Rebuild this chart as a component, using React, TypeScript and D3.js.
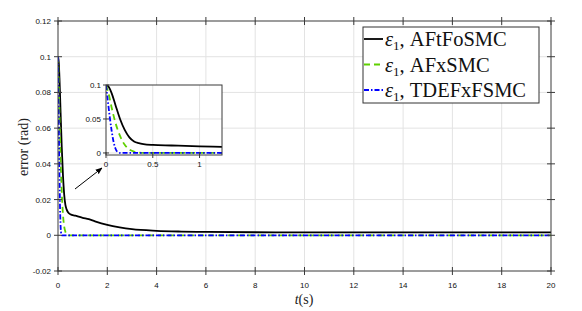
import React, { useEffect, useRef } from 'react';
import * as d3 from 'd3';

type Pt = [number, number];

// time (s), error (rad)
const afTFoSMC: Pt[] = [
  [0, 0.1], [0.03, 0.097], [0.06, 0.088], [0.1, 0.071], [0.15, 0.05], [0.2, 0.034],
  [0.25, 0.023], [0.3, 0.017], [0.35, 0.0145], [0.4, 0.013], [0.5, 0.0118], [0.7, 0.011],
  [1.0, 0.0098], [1.25, 0.009], [1.5, 0.0078], [2, 0.0058], [2.5, 0.0044], [3, 0.0034],
  [4, 0.0025], [5, 0.0021], [6, 0.0019], [8, 0.0017], [10, 0.0016], [15, 0.0016], [20, 0.0016],
];
const afxSMC: Pt[] = [
  [0, 0.1], [0.03, 0.086], [0.06, 0.067], [0.1, 0.045], [0.15, 0.025], [0.2, 0.012],
  [0.25, 0.005], [0.3, 0.002], [0.35, 0.0005], [0.4, 0], [1, 0], [20, 0],
];
const tdefxFSMC: Pt[] = [
  [0, 0.1], [0.02, 0.076], [0.04, 0.053], [0.06, 0.033], [0.08, 0.017], [0.1, 0.007],
  [0.12, 0.002], [0.15, 0], [1, 0], [20, 0],
];

const xTicks = [0, 2, 4, 6, 8, 10, 12, 14, 16, 18, 20];
const yTicks = [-0.02, 0, 0.02, 0.04, 0.06, 0.08, 0.1, 0.12];
const yTickLabels = ['-0.02', '0', '0.02', '0.04', '0.06', '0.08', '0.1', '0.12'];
const insetXTicks = [0, 0.5, 1];
const insetYTicks = [0, 0.05, 0.1];
const legendNames = ['AFtFoSMC', 'AFxSMC', 'TDEFxFSMC'];

const series = [
  { data: afTFoSMC, color: '#000000', dash: '' },
  { data: afxSMC, color: '#5fd000', dash: '6,4' },
  { data: tdefxFSMC, color: '#0000ff', dash: '5,2,1.5,2' },
];

const App: React.FC = () => {
  const ref = useRef<SVGSVGElement | null>(null);

  useEffect(() => {
    if (!ref.current) return;
    const svg = d3.select(ref.current);
    svg.selectAll('*').remove();

    const tickFont = 'Liberation Sans, Arial, sans-serif';
    const serif = 'Liberation Serif, DejaVu Serif, serif';

    // main plot
    const x = d3.scaleLinear().domain([0, 20]).range([58, 551]);
    const y = d3.scaleLinear().domain([-0.02, 0.12]).range([271, 21]);

    const defs = svg.append('defs');
    defs.append('clipPath').attr('id', 'mainClip')
      .append('rect').attr('x', 58).attr('y', 21).attr('width', 493).attr('height', 250);

    const grid = svg.append('g').attr('stroke', '#e3e3e3').attr('stroke-width', 1);
    xTicks.slice(1, -1).forEach((t) => {
      grid.append('line').attr('x1', x(t)).attr('x2', x(t)).attr('y1', 21).attr('y2', 271);
    });
    yTicks.slice(1, -1).forEach((t) => {
      grid.append('line').attr('x1', 58).attr('x2', 551).attr('y1', y(t)).attr('y2', y(t));
    });

    const line = d3.line<Pt>().x((d) => x(d[0])).y((d) => y(d[1])).curve(d3.curveMonotoneX);
    const lines = svg.append('g').attr('clip-path', 'url(#mainClip)');
    series.forEach((s) => {
      lines.append('path').datum(s.data).attr('d', line).attr('fill', 'none')
        .attr('stroke', s.color).attr('stroke-width', 1.8)
        .attr('stroke-dasharray', s.dash || null);
    });

    // frame and ticks crossing the axes
    const frame = svg.append('g').attr('stroke', '#3a3a3a').attr('stroke-width', 1);
    frame.append('rect').attr('x', 58).attr('y', 21).attr('width', 493).attr('height', 250).attr('fill', 'none');
    xTicks.forEach((t) => {
      frame.append('line').attr('x1', x(t)).attr('x2', x(t)).attr('y1', 267).attr('y2', 275);
      frame.append('line').attr('x1', x(t)).attr('x2', x(t)).attr('y1', 17).attr('y2', 25);
    });
    yTicks.forEach((t) => {
      frame.append('line').attr('x1', 54).attr('x2', 62).attr('y1', y(t)).attr('y2', y(t));
      frame.append('line').attr('x1', 547).attr('x2', 555).attr('y1', y(t)).attr('y2', y(t));
    });

    svg.append('g').selectAll('text').data(xTicks).enter().append('text')
      .attr('x', (d) => x(d)).attr('y', 288).attr('text-anchor', 'middle')
      .attr('font-family', tickFont).attr('font-size', 8).attr('fill', '#111')
      .text((d) => String(d));
    svg.append('g').selectAll('text').data(yTicks).enter().append('text')
      .attr('x', 51).attr('y', (d) => y(d) + 3).attr('text-anchor', 'end')
      .attr('font-family', tickFont).attr('font-size', 8).attr('fill', '#111')
      .text((_, i) => yTickLabels[i]);

    // axis titles
    const xl = svg.append('text').attr('x', 304).attr('y', 304).attr('text-anchor', 'middle')
      .attr('font-family', serif).attr('font-size', 14).attr('fill', '#222');
    xl.append('tspan').attr('font-style', 'italic').text('t');
    xl.append('tspan').text('(s)');
    svg.append('text').attr('transform', 'translate(28,147) rotate(-90)').attr('text-anchor', 'middle')
      .attr('font-family', serif).attr('font-size', 14).attr('fill', '#222').text('error (rad)');

    // inset
    const ix = d3.scaleLinear().domain([0, 1.24]).range([106, 222]);
    const iy = d3.scaleLinear().domain([-0.003, 0.1]).range([155, 85]);
    defs.append('clipPath').attr('id', 'insetClip')
      .append('rect').attr('x', 106).attr('y', 85).attr('width', 116).attr('height', 70);
    const inset = svg.append('g');
    inset.append('rect').attr('x', 106).attr('y', 85).attr('width', 116).attr('height', 70).attr('fill', '#fff');
    const ig = inset.append('g').attr('stroke', '#e3e3e3');
    insetXTicks.slice(1).forEach((t) => {
      ig.append('line').attr('x1', ix(t)).attr('x2', ix(t)).attr('y1', 85).attr('y2', 155);
    });
    insetYTicks.slice(0, 2).forEach((t) => {
      ig.append('line').attr('x1', 106).attr('x2', 222).attr('y1', iy(t)).attr('y2', iy(t));
    });
    const iline = d3.line<Pt>().x((d) => ix(d[0])).y((d) => iy(d[1])).curve(d3.curveMonotoneX);
    const il = inset.append('g').attr('clip-path', 'url(#insetClip)');
    series.forEach((s) => {
      il.append('path').datum(s.data).attr('d', iline).attr('fill', 'none')
        .attr('stroke', s.color).attr('stroke-width', 1.8)
        .attr('stroke-dasharray', s.dash || null);
    });
    const iframe = inset.append('g').attr('stroke', '#3a3a3a');
    iframe.append('rect').attr('x', 106).attr('y', 85).attr('width', 116).attr('height', 70).attr('fill', 'none');
    insetXTicks.forEach((t) => {
      iframe.append('line').attr('x1', ix(t)).attr('x2', ix(t)).attr('y1', 152).attr('y2', 158);
    });
    insetYTicks.forEach((t) => {
      iframe.append('line').attr('x1', 103).attr('x2', 109).attr('y1', iy(t)).attr('y2', iy(t));
    });
    inset.selectAll('text.ix').data(insetXTicks).enter().append('text')
      .attr('x', (d) => ix(d)).attr('y', 167).attr('text-anchor', 'middle')
      .attr('font-family', tickFont).attr('font-size', 8).attr('fill', '#111').text((d) => String(d));
    inset.selectAll('text.iy').data(insetYTicks).enter().append('text')
      .attr('x', 101).attr('y', (d) => iy(d) + 3).attr('text-anchor', 'end')
      .attr('font-family', tickFont).attr('font-size', 8).attr('fill', '#111').text((d) => String(d));

    // arrow
    defs.append('marker').attr('id', 'arrowHead').attr('viewBox', '0 0 10 10')
      .attr('refX', 9).attr('refY', 5).attr('markerWidth', 7).attr('markerHeight', 7)
      .attr('orient', 'auto').attr('markerUnits', 'userSpaceOnUse')
      .append('path').attr('d', 'M0,1 L10,5 L0,9 Z').attr('fill', '#000');
    svg.append('line').attr('x1', 75).attr('y1', 189).attr('x2', 102).attr('y2', 168)
      .attr('stroke', '#000').attr('stroke-width', 1).attr('marker-end', 'url(#arrowHead)');

    // legend
    const lg = svg.append('g');
    lg.append('rect').attr('x', 363).attr('y', 27).attr('width', 176).attr('height', 76)
      .attr('fill', '#fff').attr('stroke', '#333').attr('stroke-width', 1);
    series.forEach((s, i) => {
      const cy = 39 + i * 25.5;
      lg.append('line').attr('x1', 364).attr('x2', 383).attr('y1', cy).attr('y2', cy)
        .attr('stroke', s.color).attr('stroke-width', 1.8).attr('stroke-dasharray', s.dash || null);
      const t = lg.append('text').attr('x', 385).attr('y', cy + 7)
        .attr('font-family', serif).attr('font-size', 20.5).attr('fill', '#111');
      t.append('tspan').attr('font-style', 'italic').text('ε');
      t.append('tspan').attr('font-size', 13).attr('dy', 4).text('1');
      t.append('tspan').attr('dy', -4).text(', ' + legendNames[i]);
    });
  }, []);

  return (
    <svg ref={ref} width={582} height={311}
      style={{ position: 'absolute', left: 0, top: 0, background: '#fff' }} />
  );
};

export default App;
